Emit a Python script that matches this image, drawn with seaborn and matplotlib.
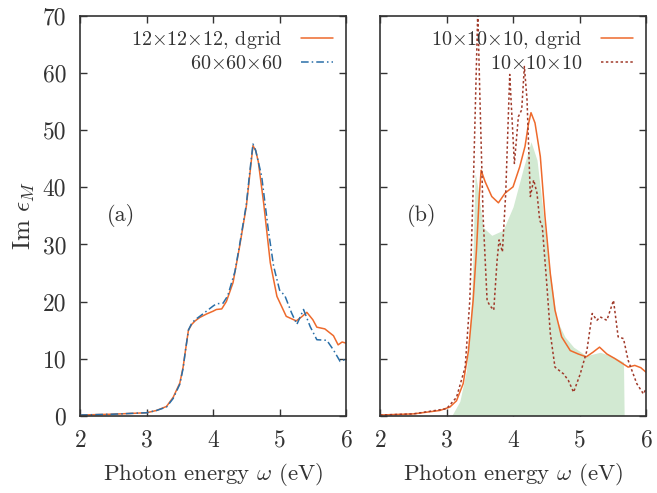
import numpy as np
import matplotlib
matplotlib.use("Agg")
import matplotlib.pyplot as plt
import seaborn as sns

# ---- data: panel (a) ----
a_dgrid_x = [2.0, 2.5, 3.0, 3.15, 3.3, 3.4, 3.5, 3.55, 3.58, 3.63, 3.68, 3.73, 3.8, 3.9, 4.0, 4.05, 4.13, 4.2,
             4.3, 4.4, 4.5, 4.55, 4.6, 4.64, 4.68, 4.76, 4.86, 4.96, 5.1, 5.25, 5.33, 5.41, 5.5, 5.56, 5.68,
             5.81, 5.88, 5.94, 6.0]
a_dgrid_y = [0.1, 0.25, 0.5, 0.9, 1.6, 3.2, 5.7, 8.5, 11.0, 15.0, 16.0, 16.6, 17.2, 17.8, 18.3, 18.6, 18.7, 20.0,
             23.3, 29.7, 36.7, 42.0, 47.3, 46.5, 44.5, 37.3, 26.8, 20.9, 17.4, 16.6, 17.3, 18.1, 16.8, 15.5, 15.2,
             14.0, 12.4, 12.9, 12.7]
a_fine_x = [2.0, 2.5, 3.0, 3.15, 3.3, 3.4, 3.5, 3.55, 3.58, 3.63, 3.68, 3.73, 3.8, 3.9, 4.0, 4.05, 4.15, 4.22,
            4.33, 4.4, 4.5, 4.55, 4.6, 4.64, 4.73, 4.83, 4.91, 5.0, 5.08, 5.18, 5.26, 5.31, 5.36, 5.46, 5.56,
            5.71, 5.81, 5.91, 6.0]
a_fine_y = [0.1, 0.25, 0.5, 0.9, 1.5, 3.0, 5.5, 8.3, 11.0, 15.0, 16.2, 16.8, 17.4, 18.3, 19.2, 19.6, 19.7, 21.0,
            25.3, 30.0, 37.0, 42.5, 47.6, 46.5, 42.0, 32.6, 26.2, 22.0, 21.0, 18.0, 16.0, 17.3, 18.6, 15.6, 13.3,
            13.2, 11.5, 9.5, 9.9]

# ---- data: panel (b) ----
b_dgrid_x = [2.0, 2.5, 2.9, 3.05, 3.15, 3.25, 3.33, 3.4, 3.45, 3.49, 3.52, 3.58, 3.68, 3.78, 3.88, 4.0, 4.1,
             4.18, 4.23, 4.27, 4.33, 4.41, 4.48, 4.56, 4.63, 4.73, 4.86, 4.98, 5.1, 5.2, 5.3, 5.41, 5.53,
             5.73, 5.83, 5.92, 6.0]
b_dgrid_y = [0.1, 0.3, 0.9, 1.5, 2.6, 5.6, 11.4, 20.2, 29.0, 38.0, 43.0, 41.0, 38.4, 37.3, 39.0, 40.1, 43.6,
             47.2, 51.0, 53.1, 51.3, 45.4, 34.9, 24.9, 18.5, 13.8, 11.4, 10.8, 10.3, 11.1, 12.0, 10.8, 10.0,
             8.5, 8.8, 8.4, 7.6]
b_plain_x = [2.0, 2.5, 3.0, 3.15, 3.28, 3.35, 3.41, 3.47, 3.5, 3.55, 3.61, 3.65, 3.71, 3.76, 3.79, 3.84, 3.89,
             3.95, 4.02, 4.08, 4.13, 4.17, 4.21, 4.26, 4.31, 4.36, 4.4, 4.44, 4.51, 4.56, 4.63, 4.76, 4.83,
             4.91, 5.01, 5.11, 5.19, 5.26, 5.31, 5.41, 5.51, 5.58, 5.66, 5.73, 5.86, 5.96, 6.0]
b_plain_y = [0.1, 0.3, 1.2, 3.2, 8.5, 20.2, 43.6, 71.0, 56.5, 34.9, 20.2, 19.3, 18.5, 27.2, 30.8, 28.7, 39.0,
             59.8, 44.2, 52.4, 53.6, 61.2, 55.4, 38.4, 41.3, 39.0, 34.3, 33.1, 22.6, 14.4, 8.5, 7.3, 6.2,
             4.1, 7.3, 11.4, 17.9, 16.7, 17.3, 16.7, 20.2, 13.8, 13.5, 9.7, 5.6, 3.8, 4.7]
b_ref_x = [3.08, 3.2, 3.3, 3.38, 3.43, 3.47, 3.55, 3.68, 3.85, 4.0, 4.16, 4.27, 4.36, 4.46, 4.56, 4.66, 4.78,
           4.91, 5.1, 5.31, 5.51, 5.66, 5.67]
b_ref_y = [0.0, 2.5, 8.0, 20.2, 42.5, 40.0, 33.0, 31.6, 32.5, 36.6, 43.6, 48.0, 44.8, 34.9, 24.9, 16.7, 13.8,
           12.0, 10.5, 11.1, 10.3, 9.4, 0.0]

x_ticks = [2, 3, 4, 5, 6]
y_ticks = [0, 10, 20, 30, 40, 50, 60, 70]
y_ticklabels = ["0", "10", "20", "30", "40", "50", "60", "70"]

ORANGE = "#ee6a2c"
BLUE = "#2a6fa8"
DRED = "#a03a2a"
GREEN = "#d2e9d2"
TXT = "#333333"

sns.set_style("ticks")
plt.rcParams["font.family"] = ["cmr10", "DejaVu Serif"]
plt.rcParams["mathtext.fontset"] = "cm"
plt.rcParams["axes.formatter.use_mathtext"] = True
plt.rcParams["text.color"] = TXT
plt.rcParams["axes.labelcolor"] = TXT
plt.rcParams["xtick.color"] = TXT
plt.rcParams["ytick.color"] = TXT
plt.rcParams["axes.edgecolor"] = TXT

fs_tick = 17
fs_lab = 16.5
fs_leg = 14.5
fs_panel = 16

fig = plt.figure(figsize=(6.57, 4.93), dpi=100)
axa = fig.add_axes([0.1218, 0.157, 0.405, 0.810])
axb = fig.add_axes([0.5784, 0.157, 0.405, 0.810])

sns.lineplot(x=a_dgrid_x, y=a_dgrid_y, ax=axa, color=ORANGE, lw=1.1,
             label=r"$12{\times}12{\times}12$, dgrid")
sns.lineplot(x=a_fine_x, y=a_fine_y, ax=axa, color=BLUE, lw=1.1,
             label=r"$60{\times}60{\times}60$")
axa.lines[1].set_dashes([5, 2, 1, 2])

axb.fill_between(b_ref_x, b_ref_y, 0, color=GREEN, lw=0, zorder=1)
sns.lineplot(x=b_dgrid_x, y=b_dgrid_y, ax=axb, color=ORANGE, lw=1.1,
             label=r"$10{\times}10{\times}10$, dgrid")
sns.lineplot(x=b_plain_x, y=b_plain_y, ax=axb, color=DRED, lw=1.1,
             label=r"$10{\times}10{\times}10$")
axb.lines[1].set_dashes([1.6, 1.6])

for ax, lab in ((axa, "(a)"), (axb, "(b)")):
    ax.set_xlim(2, 6)
    ax.set_ylim(0, 70)
    ax.set_xticks(x_ticks)
    ax.set_yticks(y_ticks)
    ax.tick_params(direction="in", top=True, right=True, length=5, width=1.0,
                   labelsize=fs_tick)
    ax.tick_params(axis="x", pad=10)
    ax.tick_params(axis="y", pad=10)
    for s in ax.spines.values():
        s.set_visible(True)
        s.set_linewidth(1.2)
    ax.set_xlabel(r"Photon energy $\omega$ (eV)", fontsize=fs_lab, labelpad=7)
    ax.text(2.62, 35.0, lab, fontsize=fs_panel, ha="center", va="center")
    ax.legend(loc="upper right", frameon=False, markerfirst=False, fontsize=fs_leg,
              handlelength=1.6, handletextpad=0.9, borderaxespad=0.35,
              labelspacing=0.2, borderpad=0.3)

axa.set_yticklabels(y_ticklabels)
axa.set_ylabel(r"Im $\epsilon_M$", fontsize=18, labelpad=4)
axb.set_yticklabels([])

fig.savefig("out.png", dpi=100)
